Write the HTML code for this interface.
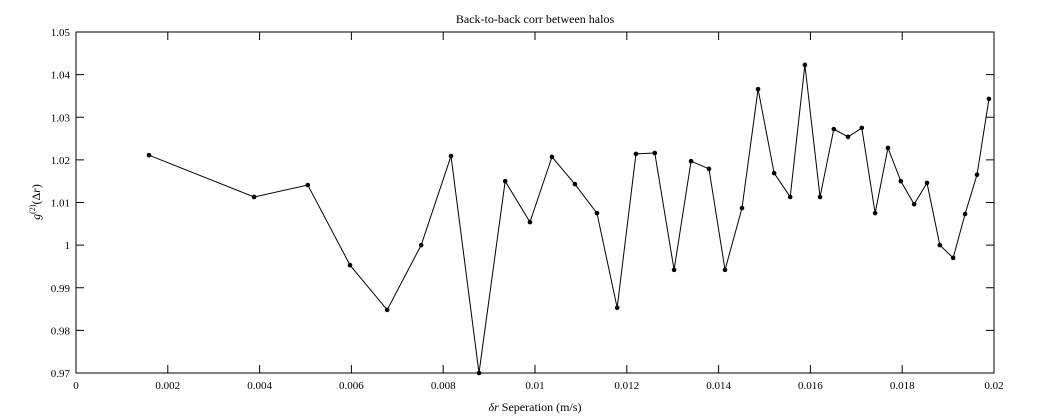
<!DOCTYPE html>
<html><head><meta charset="utf-8"><style>
body{margin:0;background:#fff;}
svg{display:block;}
text{font-family:"Liberation Serif","DejaVu Serif",serif;}
</style></head><body>
<svg id="chart" width="1043" height="420" font-family="Liberation Serif, serif">
<rect x="0" y="0" width="1043" height="420" fill="#fff"/>
<g id="axes"></g>
<g id="series"></g>
<text x="535" y="23" font-size="12" text-anchor="middle">Back-to-back corr between halos</text>
<text x="535" y="411" font-size="12" text-anchor="middle"><tspan font-style="italic">δr</tspan> Seperation (m/s)</text>
<text transform="translate(40,202) rotate(-90)" font-size="12" text-anchor="middle"><tspan font-style="italic">g</tspan><tspan font-size="8" dy="-5">(2)</tspan><tspan dy="5">(Δ</tspan><tspan font-style="italic">r</tspan>)</text>
</svg>
<script>
const xVals=[0.00159,0.00388,0.00505,0.00597,0.00678,0.00752,0.00817,0.00878,0.00935,0.00989,0.01037,0.01087,0.01135,0.01179,0.0122,0.01261,0.01303,0.0134,0.01379,0.01414,0.01451,0.01486,0.01521,0.01556,0.01588,0.01621,0.01651,0.01682,0.01712,0.01741,0.01769,0.01797,0.01826,0.01854,0.01882,0.01911,0.01937,0.01963,0.01989];
const yVals=[1.0211,1.0113,1.0141,0.9953,0.9848,1.0000,1.0209,0.9700,1.0150,1.0054,1.0207,1.0143,1.0075,0.9853,1.0214,1.0216,0.9942,1.0197,1.0179,0.9942,1.0087,1.0366,1.0169,1.0113,1.0423,1.0113,1.0272,1.0254,1.0275,1.0075,1.0228,1.0150,1.0096,1.0146,1.0000,0.9970,1.0073,1.0165,1.0343];
const xTicks=[0,0.002,0.004,0.006,0.008,0.01,0.012,0.014,0.016,0.018,0.02];
const xTickLabels=["0","0.002","0.004","0.006","0.008","0.01","0.012","0.014","0.016","0.018","0.02"];
const yTicks=[0.97,0.98,0.99,1,1.01,1.02,1.03,1.04,1.05];
const yTickLabels=["0.97","0.98","0.99","1","1.01","1.02","1.03","1.04","1.05"];
const L=76,R=994,T=32,B=373;
const sx=v=>L+(v-0)/(0.02-0)*(R-L);
const sy=v=>B-(v-0.97)/(0.08)*(B-T);
const NS="http://www.w3.org/2000/svg";
const axes=document.getElementById('axes'),ser=document.getElementById('series');
function mk(tag,attrs,parent){const e=document.createElementNS(NS,tag);for(const k in attrs)e.setAttribute(k,attrs[k]);parent.appendChild(e);return e;}
const frame=mk('rect',{x:L,y:T,width:R-L,height:B-T,fill:'none',stroke:'#000','stroke-width':1},axes);


xTicks.forEach((t,i)=>{const x=sx(t);
mk('line',{x1:x,y1:B,x2:x,y2:B-8,stroke:'#000'},axes);
mk('line',{x1:x,y1:T,x2:x,y2:T+8,stroke:'#000'},axes);
const tx=mk('text',{x:x,y:B+16,'font-size':11,'text-anchor':'middle'},axes);tx.textContent=xTickLabels[i];

});
yTicks.forEach((t,i)=>{const y=sy(t);
mk('line',{x1:L,y1:y,x2:L+8,y2:y,stroke:'#000'},axes);
mk('line',{x1:R,y1:y,x2:R-8,y2:y,stroke:'#000'},axes);
const tx=mk('text',{x:L-6,y:y+4,'font-size':11,'text-anchor':'end'},axes);tx.textContent=yTickLabels[i];

});
const pts=xVals.map((x,i)=>sx(x)+','+sy(yVals[i])).join(' ');
const pl=mk('polyline',{points:pts,fill:'none',stroke:'#000','stroke-width':1},ser);


xVals.forEach((x,i)=>{const c=mk('circle',{cx:sx(x),cy:sy(yVals[i]),r:2.3,fill:'#000'},ser);

});
</script>
</body></html>
